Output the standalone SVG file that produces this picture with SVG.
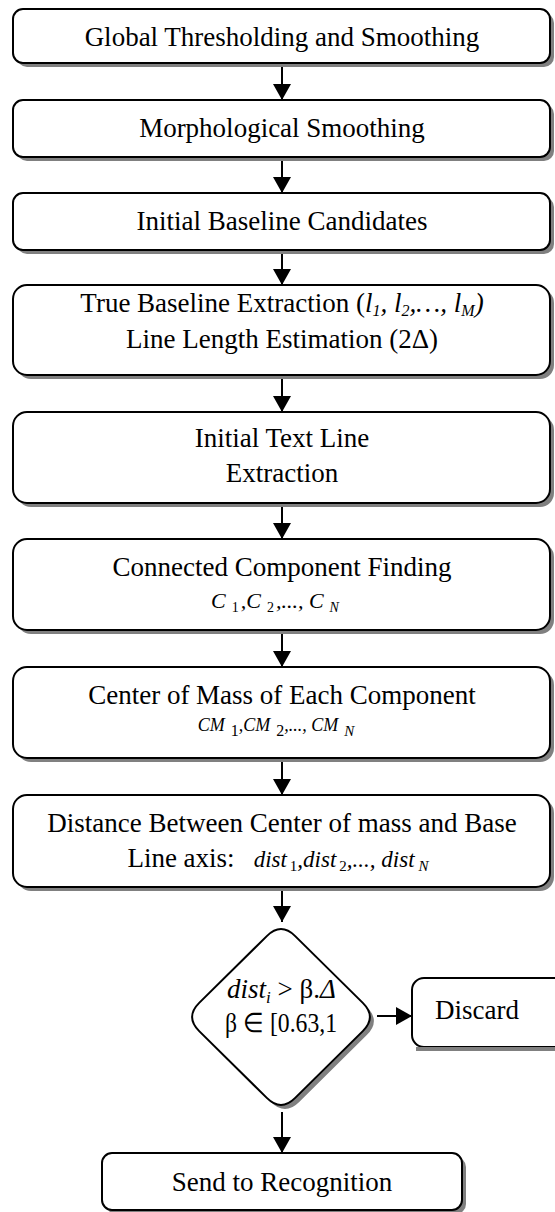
<svg xmlns="http://www.w3.org/2000/svg" width="555" height="1212" viewBox="0 0 555 1212">
<style>
.box{fill:#fff;stroke:#000;stroke-width:2}
.sh{fill:#808080;stroke:none}
.t{font-family:"Liberation Serif","Times New Roman",serif;font-size:27px;fill:#000}
.m{font-family:"Liberation Serif","Times New Roman",serif;font-style:italic;fill:#000}
.c{stroke:#000;stroke-width:2;fill:none}
</style>
<defs>
<marker id="ah" markerWidth="16" markerHeight="18" refX="16" refY="9" orient="auto" markerUnits="userSpaceOnUse" viewBox="0 0 16 18">
<path d="M0,0 L16,9 L0,18 Z" fill="#000"/>
</marker>
<clipPath id="dclip"><rect x="215" y="960" width="124" height="90"/></clipPath>
</defs>
<rect width="555" height="1212" fill="#fff"/>
<g id="connectors">
<line class="c" x1="282" y1="63" x2="282" y2="100" marker-end="url(#ah)"/>
<line class="c" x1="282" y1="157" x2="282" y2="193" marker-end="url(#ah)"/>
<line class="c" x1="282" y1="250" x2="282" y2="285" marker-end="url(#ah)"/>
<line class="c" x1="282" y1="375" x2="282" y2="412" marker-end="url(#ah)"/>
<line class="c" x1="282" y1="503" x2="282" y2="539" marker-end="url(#ah)"/>
<line class="c" x1="282" y1="630" x2="282" y2="667" marker-end="url(#ah)"/>
<line class="c" x1="282" y1="758" x2="282" y2="795" marker-end="url(#ah)"/>
<line class="c" x1="282" y1="887" x2="282" y2="922" marker-end="url(#ah)"/>
<line class="c" x1="282" y1="1112" x2="282" y2="1153" marker-end="url(#ah)"/>
<line class="c" x1="377" y1="1016" x2="412" y2="1016" marker-end="url(#ah)"/>
</g>
<g id="n1">
<rect class="sh" x="17" y="13" width="537" height="54" rx="10"/>
<rect class="box" x="13" y="9" width="537" height="54" rx="10"/>
<text class="t" x="282" y="46" text-anchor="middle">Global Thresholding and Smoothing</text>
</g>
<g id="n2">
<rect class="sh" x="17" y="104" width="537" height="57" rx="10"/>
<rect class="box" x="13" y="100" width="537" height="57" rx="10"/>
<text class="t" x="282" y="137" text-anchor="middle">Morphological Smoothing</text>
</g>
<g id="n3">
<rect class="sh" x="17" y="197" width="537" height="57" rx="10"/>
<rect class="box" x="13" y="193" width="537" height="57" rx="10"/>
<text class="t" x="282" y="230" text-anchor="middle">Initial Baseline Candidates</text>
</g>
<g id="n4">
<rect class="sh" x="17" y="289" width="537" height="90" rx="14"/>
<rect class="box" x="13" y="285" width="537" height="90" rx="14"/>
<text class="t" x="282" y="312" text-anchor="middle">True Baseline Extraction (<tspan font-style="italic">l</tspan><tspan font-style="italic" font-size="16" dy="4">1</tspan><tspan font-style="italic" dy="-4">, l</tspan><tspan font-style="italic" font-size="16" dy="4">2</tspan><tspan font-style="italic" dy="-4">,…, l</tspan><tspan font-style="italic" font-size="16" dy="4">M</tspan><tspan font-style="italic" dy="-4">)</tspan></text>
<text class="t" x="282" y="348" text-anchor="middle">Line Length Estimation (2Δ)</text>
</g>
<g id="n5">
<rect class="sh" x="17" y="416" width="537" height="91" rx="14"/>
<rect class="box" x="13" y="412" width="537" height="91" rx="14"/>
<text class="t" x="282" y="447" text-anchor="middle">Initial Text Line</text>
<text class="t" x="282" y="482" text-anchor="middle">Extraction</text>
</g>
<g id="n6">
<rect class="sh" x="17" y="543" width="537" height="91" rx="14"/>
<rect class="box" x="13" y="539" width="537" height="91" rx="14"/>
<text class="t" x="282" y="576" text-anchor="middle">Connected Component Finding</text>
<text class="m" x="275" y="608" text-anchor="middle" font-size="22">C<tspan font-size="14" font-style="normal" dx="6" dy="4">1</tspan><tspan dx="2" dy="-4">,C</tspan><tspan font-size="14" font-style="normal" dx="6" dy="4">2</tspan><tspan dx="2" dy="-4">,..., C</tspan><tspan font-size="14" dx="6" dy="4">N</tspan></text>
</g>
<g id="n7">
<rect class="sh" x="17" y="671" width="537" height="91" rx="14"/>
<rect class="box" x="13" y="667" width="537" height="91" rx="14"/>
<text class="t" x="282" y="704" text-anchor="middle">Center of Mass of Each Component</text>
<text class="m" x="276" y="731" text-anchor="middle" font-size="18">CM<tspan font-size="16" font-style="normal" dx="6" dy="5">1</tspan><tspan dy="-5">,CM</tspan><tspan font-size="16" font-style="normal" dx="6" dy="5">2</tspan><tspan dy="-5">,..., CM</tspan><tspan font-size="15" dx="6" dy="5">N</tspan></text>
</g>
<g id="n8">
<rect class="sh" x="17" y="799" width="537" height="92" rx="14"/>
<rect class="box" x="13" y="795" width="537" height="92" rx="14"/>
<text class="t" x="282" y="832" text-anchor="middle">Distance Between Center of mass and Base</text>
<text class="t" x="278" y="867" text-anchor="middle">Line axis:<tspan class="m" font-size="23" dx="19">dist</tspan><tspan font-size="15" dx="3" dy="4">1</tspan><tspan class="m" font-size="23" dy="-4">,dist</tspan><tspan font-size="15" dx="3" dy="4">2</tspan><tspan class="m" font-size="23" dy="-4">,..., dist</tspan><tspan class="m" font-size="15" dx="4" dy="4">N</tspan></text>
</g>
<g id="decision">
<path class="sh" d="M270.8,940.1 Q285,926 299.2,940.1 L366.8,1006.9 Q381,1021 366.8,1035.1 L299.2,1101.9 Q285,1116 270.8,1101.9 L203.2,1035.1 Q189,1021 203.2,1006.9 Z"/>
<path class="box" d="M266.8,936.1 Q281,922 295.2,936.1 L362.8,1002.9 Q377,1017 362.8,1031.1 L295.2,1097.9 Q281,1112 266.8,1097.9 L199.2,1031.1 Q185,1017 199.2,1002.9 Z"/>
<g clip-path="url(#dclip)">
<text class="t" x="227" y="998"><tspan font-style="italic">dist</tspan><tspan font-style="italic" font-size="17" dy="5">i</tspan><tspan dy="-5"> &gt; β.</tspan><tspan font-style="italic">Δ</tspan></text>
<text class="t" x="225" y="1032" textLength="112" lengthAdjust="spacingAndGlyphs">β ∈ [0.63,1</text>
</g>
</g>
<g id="discard">
<rect class="box" x="412" y="978" width="170" height="69" rx="12"/>
<rect class="sh" x="416" y="1047" width="150" height="4"/>
<text class="t" x="435" y="1019">Discard</text>
</g>
<g id="send">
<rect class="sh" x="106" y="1157" width="360" height="57" rx="10"/>
<rect class="box" x="102" y="1153" width="360" height="57" rx="10"/>
<text class="t" x="282" y="1191" text-anchor="middle">Send to Recognition</text>
</g>
</svg>
